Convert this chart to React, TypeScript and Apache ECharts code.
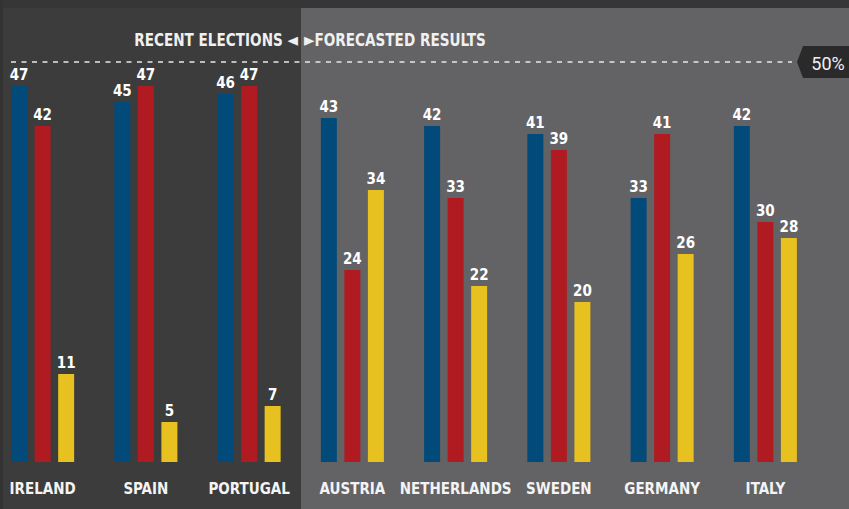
import React, { useEffect, useRef } from "react";
import * as echarts from "echarts";

const categories = ["IRELAND", "SPAIN", "PORTUGAL", "AUSTRIA", "NETHERLANDS", "SWEDEN", "GERMANY", "ITALY"];
const blueValues = [47, 45, 46, 43, 42, 41, 33, 42];
const redValues = [42, 47, 47, 24, 33, 39, 41, 30];
const yellowValues = [11, 5, 7, 34, 22, 20, 26, 28];
const referenceLevel = 50;
const leftHeader = "RECENT ELECTIONS \u25C4";
const rightHeader = "\u25BAFORECASTED RESULTS";

const NARROW = '"Liberation Sans Narrow", "DejaVu Sans Condensed", sans-serif';
const COLORS = ["#024a7a", "#b01b22", "#e7c11f"];
// the chart canvas starts OX px left of the page so the first band can begin off-screen
const OX = 9;

export default function App() {
  const ref = useRef<HTMLDivElement>(null);
  useEffect(() => {
    if (!ref.current) return;
    const chart = echarts.init(ref.current, null, { renderer: "svg" });
    const label = {
      show: true,
      position: "top",
      distance: 4,
      color: "#ffffff",
      fontFamily: NARROW,
      fontWeight: "bold",
      fontSize: 15,
    };
    const mk = (name: string, data: number[], color: string) => ({
      name,
      type: "bar",
      data,
      barWidth: 16,
      barGap: "47%",
      itemStyle: { color },
      label,
      z: 3,
    });
    chart.setOption({
      animation: false,
      backgroundColor: "#3c3c3c",
      grid: { left: 0, right: 32, top: 62, bottom: 47 },
      xAxis: {
        type: "category",
        data: categories,
        axisLine: { show: false },
        axisTick: { show: false },
        axisLabel: {
          color: "#f4f4f4",
          fontFamily: NARROW,
          fontWeight: "bold",
          fontSize: 15,
          margin: 19,
          interval: 0,
        },
      },
      yAxis: { type: "value", min: 0, max: referenceLevel, show: false, splitLine: { show: false } },
      series: [
        mk("Blue", blueValues, COLORS[0]),
        mk("Red", redValues, COLORS[1]),
        mk("Yellow", yellowValues, COLORS[2]),
      ],
    });
    const y50 = chart.convertToPixel({ yAxisIndex: 0 }, referenceLevel) as number;
    chart.setOption({
      graphic: [
        { type: "rect", z: 0, silent: true, shape: { x: 0, y: 0, width: 849 + OX, height: 8 }, style: { fill: "#363636" } },
        { type: "rect", z: 0, silent: true, shape: { x: 0, y: 0, width: 3 + OX, height: 509 }, style: { fill: "#333333" } },
        { type: "rect", z: 0, silent: true, shape: { x: 301 + OX, y: 8, width: 548, height: 501 }, style: { fill: "#636365" } },
        {
          type: "line",
          z: 1,
          silent: true,
          shape: { x1: 11 + OX, y1: y50, x2: 792 + OX, y2: y50 },
          style: { stroke: "#e8e8e8", lineWidth: 1.5, lineDash: [5, 5.5] },
        },
        {
          type: "polygon",
          z: 1,
          silent: true,
          shape: {
            points: [
              [797 + OX, y50],
              [803 + OX, y50 - 16],
              [849 + OX, y50 - 16],
              [849 + OX, y50 + 16],
              [803 + OX, y50 + 16],
            ],
          },
          style: { fill: "#2a2a2a" },
        },
        {
          type: "text",
          z: 2,
          silent: true,
          x: 828 + OX,
          y: y50 + 1,
          style: {
            text: "50%",
            fill: "#f0f0f0",
            fontFamily: "Roboto, sans-serif",
            fontSize: 18,
            align: "center",
            verticalAlign: "middle",
          },
        },
        {
          type: "text",
          z: 2,
          silent: true,
          x: 298 + OX,
          y: 40,
          scaleX: 0.84,
          style: {
            text: leftHeader,
            fill: "#f0f0f0",
            fontFamily: NARROW,
            fontWeight: "bold",
            fontSize: 18,
            align: "right",
            verticalAlign: "middle",
          },
        },
        {
          type: "text",
          z: 2,
          silent: true,
          x: 304 + OX,
          y: 40,
          scaleX: 0.84,
          style: {
            text: rightHeader,
            fill: "#f0f0f0",
            fontFamily: NARROW,
            fontWeight: "bold",
            fontSize: 18,
            align: "left",
            verticalAlign: "middle",
          },
        },
      ],
    });
    return () => chart.dispose();
  }, []);
  return <div ref={ref} style={{ position: "fixed", left: -OX, top: 0, width: 849 + OX, height: 509 }} />;
}
